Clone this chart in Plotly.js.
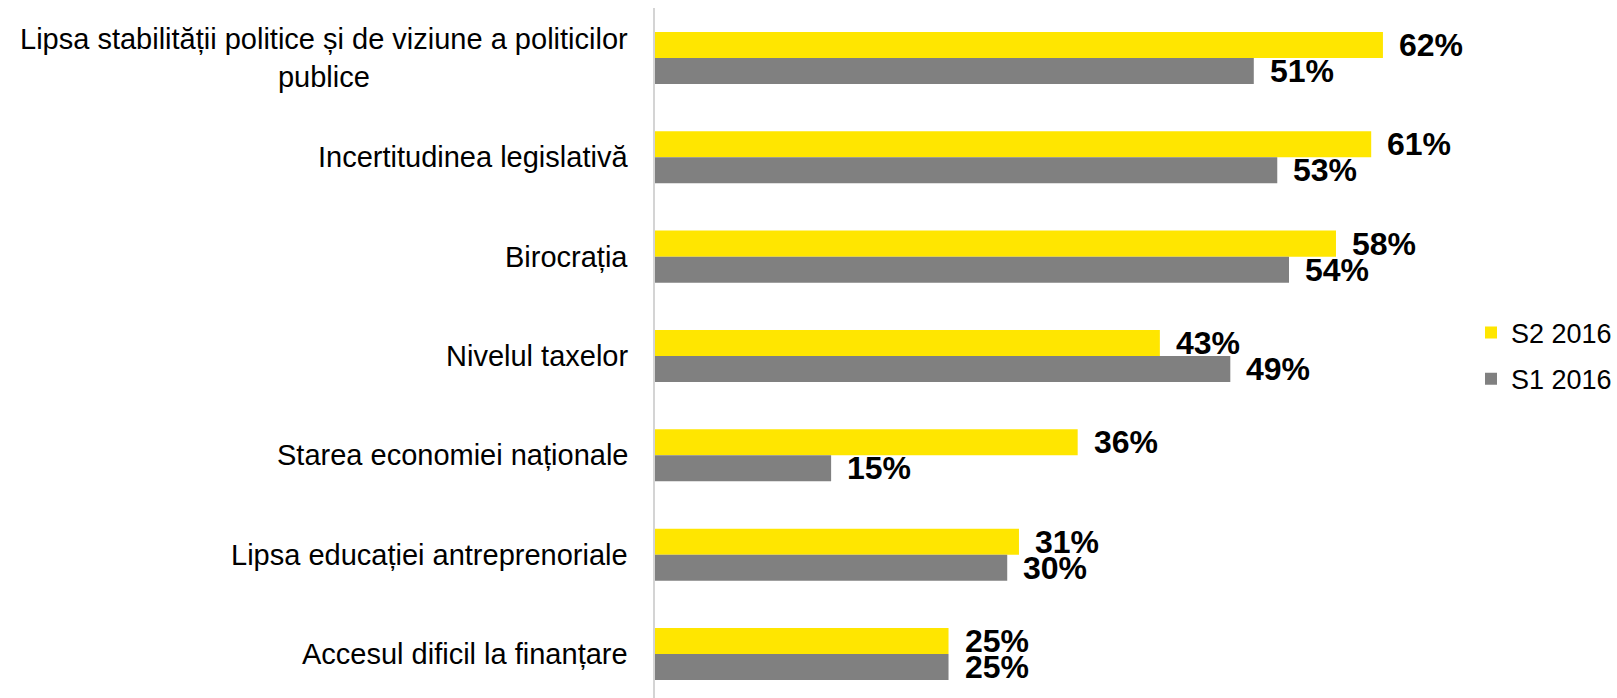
<!DOCTYPE html>
<html>
<head>
<meta charset="utf-8">
<script src="https://cdn.plot.ly/plotly-3.0.1.min.js"></script>
<style>html,body{margin:0;padding:0;background:#fff;}#chart{width:1617px;height:698px;}</style>
</head>
<body>
<div id="chart"></div>
<script>
var categories = [
  "Lipsa stabilității politice și de viziune a politicilor<br>publice",
  "Incertitudinea legislativă",
  "Birocrația",
  "Nivelul taxelor",
  "Starea economiei naționale",
  "Lipsa educației antreprenoriale",
  "Accesul dificil la finanțare"
];
var seriesNames = ["S2 2016", "S1 2016"];
var s2_2016 = [62, 61, 58, 43, 36, 31, 25];
var s1_2016 = [51, 53, 54, 49, 15, 30, 25];
var colors = ["#FFE600", "#808080"];

var FONT = "Arial, 'Liberation Sans', sans-serif";
var bargap = 0.476;
var series = [s2_2016, s1_2016];

var traces = series.map(function (vals, i) {
  return {
    type: "bar",
    orientation: "h",
    name: seriesNames[i],
    x: vals,
    y: categories,
    marker: { color: colors[i], line: { width: 0 } },
    legendgroup: "g" + i,
    hoverinfo: "x+name"
  };
});

var annotations = [];
// category labels (centered multi-line, right edge near axis)
categories.forEach(function (c) {
  annotations.push({
    xref: "paper", yref: "y", x: 0, y: c,
    xanchor: "right", yanchor: "middle", align: "center",
    xshift: -25, text: c, showarrow: false,
    font: { family: FONT, size: 29, color: "#000" }
  });
});
// value labels
var barPx = 99.33 * (1 - bargap) / 2;
series.forEach(function (vals, i) {
  var shift = (i === 0 ? 1 : -1) * barPx / 2;
  vals.forEach(function (v, j) {
    annotations.push({
      xref: "x", yref: "y", x: v, y: categories[j],
      xanchor: "left", yanchor: "middle",
      xshift: 14, yshift: shift,
      text: "<b>" + v + "%</b>", showarrow: false,
      font: { family: FONT, size: 32, color: "#000" }
    });
  });
});

var layout = {
  width: 1617, height: 698,
  margin: { l: 655, r: 143, t: 8, b: 0, pad: 0 },
  paper_bgcolor: "#fff", plot_bgcolor: "#fff",
  barmode: "group", bargap: bargap, bargroupgap: 0,
  font: { family: FONT, color: "#000" },
  xaxis: { range: [0, 69.5], visible: false, showgrid: false, zeroline: false, fixedrange: true },
  yaxis: {
    type: "category", range: [6.443, -0.503],
    showticklabels: false, ticks: "", showgrid: false, zeroline: false,
    showline: true, linecolor: "#d4d4d4", linewidth: 2, fixedrange: true
  },
  showlegend: true,
  legend: {
    xref: "container", yref: "container",
    x: 1, y: 0.49, xanchor: "right", yanchor: "middle",
    font: { family: FONT, size: 27, color: "#000" },
    tracegroupgap: 8, bgcolor: "rgba(0,0,0,0)", borderwidth: 0
  },
  annotations: annotations
};

Plotly.newPlot("chart", traces, layout, { displayModeBar: false, staticPlot: true });
</script>
</body>
</html>
